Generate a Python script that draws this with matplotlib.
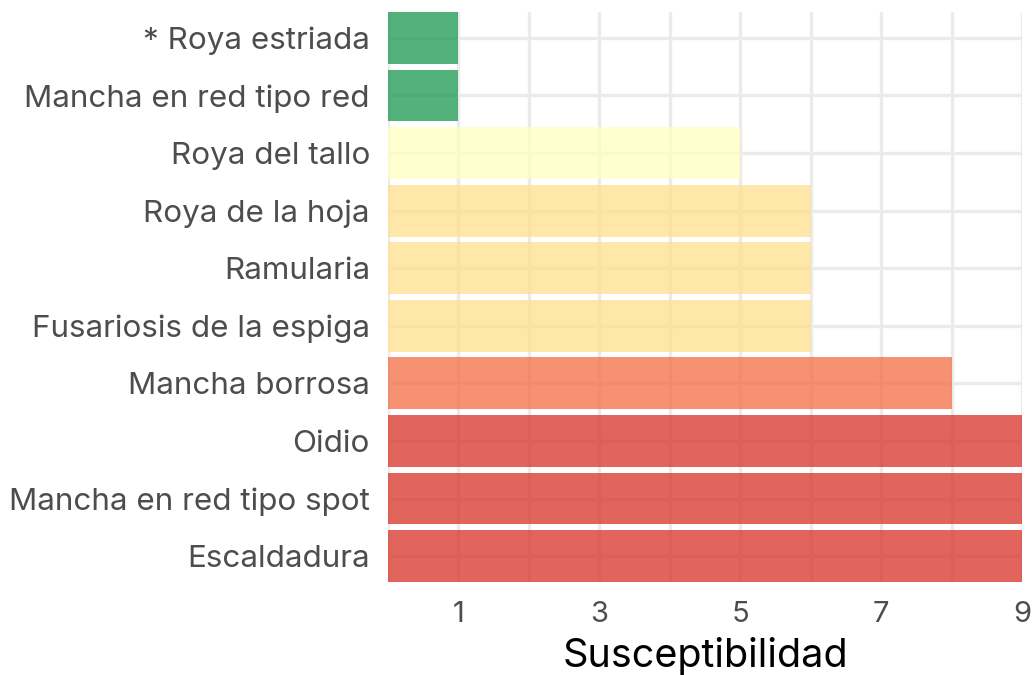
import matplotlib
matplotlib.use("Agg")
import matplotlib.pyplot as plt

plt.rcParams['font.family'] = ['Inter', 'DejaVu Sans']

# data, top to bottom
diseases = ["* Roya estriada", "Mancha en red tipo red", "Roya del tallo",
            "Roya de la hoja", "Ramularia", "Fusariosis de la espiga",
            "Mancha borrosa", "Oidio", "Mancha en red tipo spot", "Escaldadura"]
scores = [1, 1, 5, 6, 6, 6, 8, 9, 9, 9]

# colour per susceptibility score (RdYlGn)
score_colors = {1: "#1a9850", 5: "#ffffbf", 6: "#fee08b", 8: "#f46d43", 9: "#d73027"}

fig = plt.figure(figsize=(10.32, 6.75), dpi=100)
ax = fig.add_axes([0.376, 0.1378, 0.6143, 0.8444])

pos = list(range(len(diseases)))
ax.barh(pos, scores, height=0.9, color=[score_colors[s] for s in scores],
        alpha=0.75, zorder=2)

ax.set_xlim(0, 9)
ax.set_ylim(len(diseases) - 0.55, -0.45)
ax.set_xticks([1, 3, 5, 7, 9])
ax.set_xticks([0, 2, 4, 6, 8], minor=True)
ax.set_yticks(pos)
ax.set_yticklabels(diseases)

ax.grid(True, which="both", axis="both", color="#ebebeb", linewidth=2.4, zorder=0)
ax.set_axisbelow(True)
for s in ax.spines.values():
    s.set_visible(False)
ax.tick_params(which="both", length=0)
ax.tick_params(axis="y", labelsize=22.6, labelcolor="#4d4d4d", pad=13)
ax.tick_params(axis="x", labelsize=21, labelcolor="#4d4d4d", pad=14)
ax.set_xlabel("Susceptibilidad", fontsize=28.5, color="black", labelpad=6)

fig.savefig("out.png", dpi=100)
